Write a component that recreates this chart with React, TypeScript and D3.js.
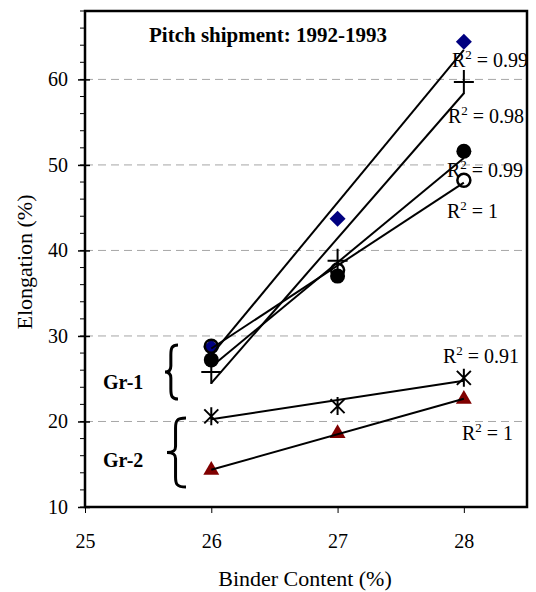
import React, { useEffect, useRef } from 'react';
import * as d3 from 'd3';

// binder content (%) for every series
const binder = [26, 27, 28];

// elongation (%), one array per series
const diamondVals = [28.7, 43.7, 64.4];
const plusVals = [25.8, 38.8, 59.7];
const dotVals = [27.2, 37.0, 51.6];
const ringVals = [28.8, 37.7, 48.2];
const starVals = [20.6, 21.8, 25.1];
const triVals = [14.3, 18.6, 22.6];

const r2Labels = ['0.99', '0.98', '0.99', '1', '0.91', '1'];
const xTicks = [25, 26, 27, 28];
const yTicks = [10, 20, 30, 40, 50, 60];
const yMinor = d3.range(10, 69, 2);

const FONT = '"Liberation Serif", "Times New Roman", serif';

const App = () => {
    const ref = useRef<SVGSVGElement | null>(null);

    useEffect(() => {
        const svg = d3.select(ref.current);
        svg.selectAll('*').remove();

        const left = 85, right = 527, top = 11, bottom = 507;
        const x = d3.scaleLinear().domain([25, 28.5]).range([left, right]);
        const y = d3.scaleLinear().domain([10, 68]).range([bottom, top]);

        // dashed gridlines
        svg.append('g')
            .selectAll('line')
            .data(yTicks.slice(1))
            .enter()
            .append('line')
            .attr('x1', left).attr('x2', right)
            .attr('y1', d => y(d)).attr('y2', d => y(d))
            .attr('stroke', '#a6a6a6')
            .attr('stroke-dasharray', '8,5');

        // minor ticks on the y axis
        svg.append('g')
            .selectAll('line')
            .data(yMinor)
            .enter()
            .append('line')
            .attr('x1', left - 5).attr('x2', left)
            .attr('y1', d => y(d)).attr('y2', d => y(d))
            .attr('stroke', '#000');

        // y axis
        const yAxis = svg.append('g')
            .attr('transform', `translate(${left},0)`)
            .call(d3.axisLeft(y).tickValues(yTicks).tickFormat(d3.format('d')).tickSize(7).tickPadding(10));
        yAxis.select('.domain').remove();
        yAxis.selectAll('line').attr('x2', -7).attr('x1', 5).attr('stroke-width', 1.5);
        yAxis.selectAll('text').style('font-family', FONT).style('font-size', '20px');

        // x axis
        const xAxis = svg.append('g')
            .attr('transform', `translate(0,${bottom})`)
            .call(d3.axisBottom(x).tickValues(xTicks).tickFormat(d3.format('d')).tickSize(6).tickPadding(21));
        xAxis.select('.domain').remove();
        xAxis.selectAll('text').style('font-family', FONT).style('font-size', '20px');

        // frame
        svg.append('rect')
            .attr('x', left).attr('y', top)
            .attr('width', right - left).attr('height', bottom - top)
            .attr('fill', 'none')
            .attr('stroke', '#000')
            .attr('stroke-width', 2.5);

        const g = svg.append('g');
        const pts = (vals: number[]) => vals.map((v, i) => [x(binder[i]), y(v)] as [number, number]);

        // markers
        const star = 'M-7,-7L7,7M-7,7L7,-7M0,-9L0,9';
        const plus = 'M-10,0L10,0M0,-12L0,12';

        g.selectAll('.tri').data(pts(triVals)).enter().append('path')
            .attr('d', d3.symbol(d3.symbolTriangle, 110)())
            .attr('transform', d => `translate(${d[0]},${d[1]})`)
            .attr('fill', '#800000');

        g.selectAll('.star').data(pts(starVals)).enter().append('path')
            .attr('d', star)
            .attr('transform', d => `translate(${d[0]},${d[1]})`)
            .attr('stroke', '#000').attr('stroke-width', 2).attr('fill', 'none');

        g.selectAll('.dot').data(pts(dotVals)).enter().append('circle')
            .attr('cx', d => d[0]).attr('cy', d => d[1]).attr('r', 7.5)
            .attr('fill', '#000');

        g.selectAll('.plus').data(pts(plusVals)).enter().append('path')
            .attr('d', plus)
            .attr('transform', d => `translate(${d[0]},${d[1]})`)
            .attr('stroke', '#000').attr('stroke-width', 2).attr('fill', 'none');

        g.selectAll('.dia').data(pts(diamondVals)).enter().append('path')
            .attr('d', 'M0,-8L8,0L0,8L-8,0Z')
            .attr('transform', d => `translate(${d[0]},${d[1]})`)
            .attr('fill', '#000080');

        g.selectAll('.ring').data(pts(ringVals)).enter().append('circle')
            .attr('cx', d => d[0]).attr('cy', d => d[1]).attr('r', 6.5)
            .attr('fill', 'none').attr('stroke', '#000').attr('stroke-width', 2.5);

        // linear trendlines
        const fit = (vals: number[]) => {
            const mx = d3.mean(binder) as number;
            const my = d3.mean(vals) as number;
            const sxy = d3.sum(binder, (b, i) => (b - mx) * (vals[i] - my));
            const sxx = d3.sum(binder, b => (b - mx) ** 2);
            const k = sxy / sxx;
            return (b: number) => my + k * (b - mx);
        };
        const line = d3.line<number>().x(b => x(b));
        [diamondVals, plusVals, dotVals, ringVals, starVals, triVals].forEach(vals => {
            const f = fit(vals);
            g.append('path')
                .attr('d', line.y(b => y(f(b)))([26, 28]))
                .attr('stroke', '#000').attr('stroke-width', 2).attr('fill', 'none');
        });

        // R² labels
        const labelPos = [[452, 67], [448, 123], [447, 177], [447, 218], [443, 363], [462, 440]];
        labelPos.forEach((p, i) => {
            const t = svg.append('text')
                .attr('x', p[0]).attr('y', p[1])
                .style('font-family', FONT).style('font-size', '20px');
            t.append('tspan').text('R');
            t.append('tspan').attr('dy', -8).style('font-size', '13px').text('2');
            t.append('tspan').attr('dy', 8).text(` = ${r2Labels[i]}`);
        });

        // title
        svg.append('text')
            .attr('x', 268).attr('y', 42)
            .attr('text-anchor', 'middle')
            .style('font-family', FONT).style('font-size', '21px').style('font-weight', 'bold')
            .text('Pitch shipment: 1992-1993');

        // group annotations
        const brace = (xl: number, y0: number, y1: number, w: number) => {
            const xm = xl + w * 0.45, xr = xl + w, ym = (y0 + y1) / 2;
            return `M${xr},${y0}C${xm + 1},${y0} ${xm},${y0 + 3} ${xm},${y0 + 10}L${xm},${ym - 6}`
                + `C${xm},${ym - 2} ${xm - 2},${ym} ${xl},${ym}C${xm - 2},${ym} ${xm},${ym + 2} ${xm},${ym + 6}`
                + `L${xm},${y1 - 10}C${xm},${y1 - 3} ${xm + 1},${y1} ${xr},${y1}`;
        };
        svg.append('path').attr('d', brace(165, 345, 399, 13))
            .attr('fill', 'none').attr('stroke', '#000').attr('stroke-width', 3);
        svg.append('path').attr('d', brace(167, 418, 487, 19))
            .attr('fill', 'none').attr('stroke', '#000').attr('stroke-width', 3);

        svg.append('text').attr('x', 103).attr('y', 389)
            .style('font-family', FONT).style('font-size', '20px').style('font-weight', 'bold')
            .text('Gr-1');
        svg.append('text').attr('x', 103).attr('y', 467)
            .style('font-family', FONT).style('font-size', '20px').style('font-weight', 'bold')
            .text('Gr-2');

        // axis titles
        svg.append('text')
            .attr('x', 305).attr('y', 586)
            .attr('text-anchor', 'middle')
            .style('font-family', FONT).style('font-size', '22px')
            .text('Binder Content (%)');
        svg.append('text')
            .attr('transform', 'translate(32,262) rotate(-90)')
            .attr('text-anchor', 'middle')
            .style('font-family', FONT).style('font-size', '22px')
            .text('Elongation (%)');
    }, []);

    return (
        <svg ref={ref} width={536} height={592}
            style={{ position: 'absolute', left: 0, top: 0, background: '#fff' }} />
    );
};

export default App;
